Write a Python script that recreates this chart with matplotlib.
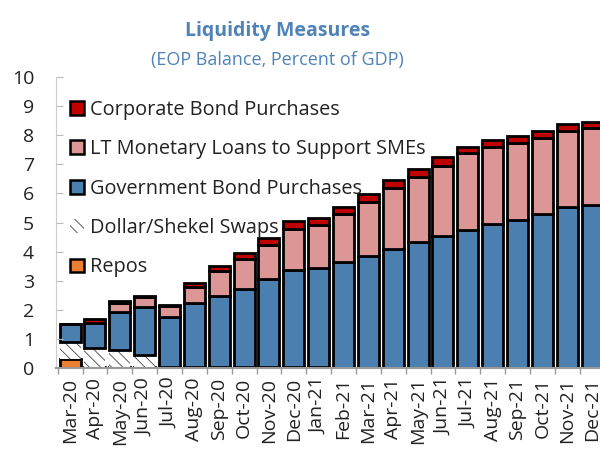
import numpy as np
import matplotlib
matplotlib.use("Agg")
from matplotlib import pyplot as plt
from matplotlib.patches import Patch

plt.rcParams['font.family'] = ['Open Sans', 'DejaVu Sans']

# months shown on the x axis
months = ['Mar-20', 'Apr-20', 'May-20', 'Jun-20', 'Jul-20', 'Aug-20', 'Sep-20',
          'Oct-20', 'Nov-20', 'Dec-20', 'Jan-21', 'Feb-21', 'Mar-21', 'Apr-21',
          'May-21', 'Jun-21', 'Jul-21', 'Aug-21', 'Sep-21', 'Oct-21', 'Nov-21',
          'Dec-21']

# percent of GDP, stacked from the bottom
repos = [0.30, 0.05, 0.05, 0.05, 0.05, 0.05, 0.05, 0.05, 0.05, 0.05, 0.05,
         0, 0, 0, 0, 0, 0, 0, 0, 0, 0, 0]
swaps = [0.60, 0.63, 0.57, 0.40, 0, 0, 0, 0, 0, 0, 0,
         0, 0, 0, 0, 0, 0, 0, 0, 0, 0, 0]
gov_bonds = [0.60, 0.88, 1.31, 1.65, 1.72, 2.18, 2.43, 2.66, 3.00, 3.32, 3.38,
             3.65, 3.86, 4.09, 4.32, 4.55, 4.74, 4.95, 5.09, 5.28, 5.52, 5.60]
lt_loans = [0, 0, 0.30, 0.34, 0.36, 0.57, 0.86, 1.03, 1.18, 1.40, 1.48,
            1.63, 1.85, 2.10, 2.23, 2.40, 2.64, 2.65, 2.65, 2.63, 2.62, 2.64]
corp_bonds = [0, 0.14, 0.07, 0.05, 0.05, 0.12, 0.17, 0.21, 0.24, 0.28, 0.26,
              0.26, 0.26, 0.26, 0.28, 0.29, 0.22, 0.24, 0.23, 0.24, 0.24, 0.22]

c_repo = '#ed7d31'
c_gov = '#4a7fb0'
c_lt = '#dc9696'
c_corp = '#c00000'
c_title = '#4f83b8'

fig = plt.figure(figsize=(6.0, 4.54), dpi=100)
ax = fig.add_axes([0.094, 0.1894, 0.9135, 0.641])

x = np.arange(len(months))
w = 0.84
ew = 2.0

repos = np.array(repos)
swaps = np.array(swaps)
gov_bonds = np.array(gov_bonds)
lt_loans = np.array(lt_loans)
corp_bonds = np.array(corp_bonds)

plt.rcParams['hatch.linewidth'] = 0.6
ax.bar(x, repos, w, color=c_repo, edgecolor='black', linewidth=ew)
ax.bar(x, swaps, w, bottom=repos, color='white', edgecolor='#444444',
       linewidth=0, hatch='\\\\\\')
b = repos + swaps
ax.bar(x, gov_bonds, w, bottom=b, color=c_gov, edgecolor='black', linewidth=ew)
b = b + gov_bonds
ax.bar(x, lt_loans, w, bottom=b, color=c_lt, edgecolor='black', linewidth=ew)
b = b + lt_loans
ax.bar(x, corp_bonds, w, bottom=b, color=c_corp, edgecolor='black', linewidth=ew)

ax.set_xlim(-0.55, len(months) - 0.5)
ax.set_ylim(0, 10)
ax.set_yticks(range(0, 11))
ax.set_xticks(x)
ax.set_xticklabels(months, rotation=90, fontsize=14, color='#222222')
ax.set_xticks(np.arange(-0.5, len(months), 1), minor=True)
ax.tick_params(axis='x', which='major', length=0, pad=7)
ax.tick_params(axis='x', which='minor', length=4, color='#999999', width=1)
ax.tick_params(axis='y', direction='in', length=5, color='#bbbbbb',
               labelsize=14, labelcolor='#222222', pad=16)

for s in ['top', 'right']:
    ax.spines[s].set_visible(False)
ax.spines['left'].set_color('#cccccc')
ax.spines['bottom'].set_color('#999999')
ax.spines['bottom'].set_linewidth(1.5)

handles = [
    Patch(facecolor=c_corp, edgecolor='black', linewidth=1.8),
    Patch(facecolor=c_lt, edgecolor='black', linewidth=1.8),
    Patch(facecolor=c_gov, edgecolor='black', linewidth=1.8),
    Patch(facecolor='white', edgecolor='#444444', linewidth=0, hatch='\\\\\\'),
    Patch(facecolor=c_repo, edgecolor='black', linewidth=1.8),
]
labels = ['Corporate Bond Purchases', 'LT Monetary Loans to Support SMEs',
          'Government Bond Purchases', 'Dollar/Shekel Swaps', 'Repos']
leg = ax.legend(handles, labels, loc='upper left', bbox_to_anchor=(0.0, 0.97),
                frameon=False, fontsize=14.3, handlelength=0.7, handleheight=0.7,
                handletextpad=0.3, labelspacing=0.98, borderaxespad=0.3)
for t in leg.get_texts():
    t.set_color('#222222')

fig.text(0.463, 0.932, 'Liquidity Measures', ha='center', va='center',
         fontsize=14, fontweight='bold', color=c_title)
fig.text(0.463, 0.868, '(EOP Balance, Percent of GDP)', ha='center', va='center',
         fontsize=13, color=c_title)

fig.savefig('out.png', dpi=100)
